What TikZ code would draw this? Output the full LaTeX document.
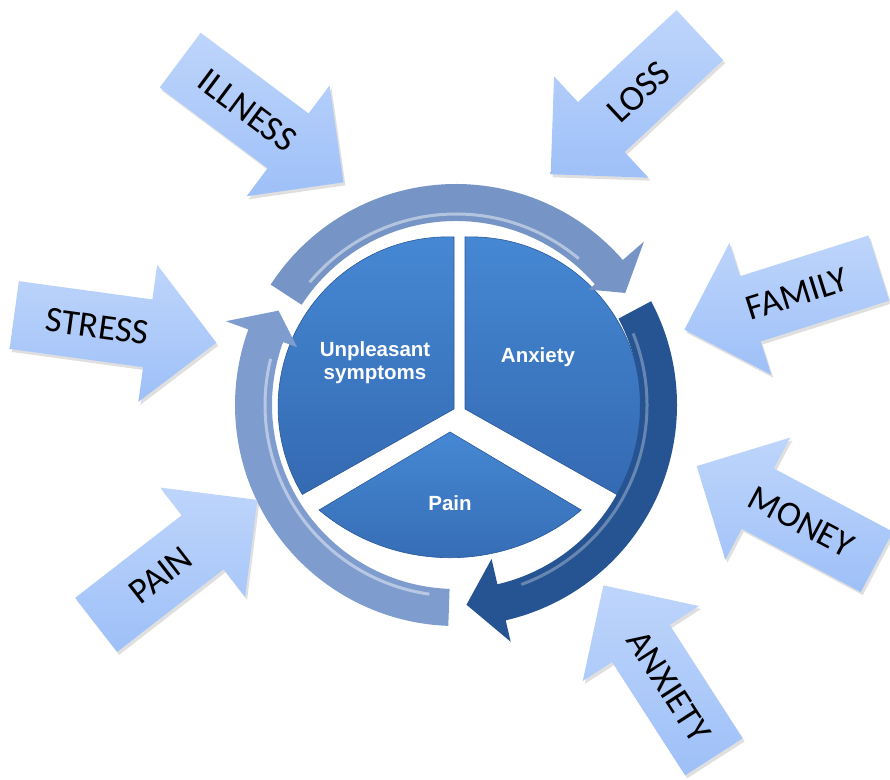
\documentclass[tikz,border=0pt]{standalone}
\usepackage{fontspec}
\setmainfont{Carlito}
\newfontfamily\piefont{Liberation Sans}
\usetikzlibrary{shapes.arrows, shadows, calc}

\definecolor{arrowlight}{RGB}{190,213,251}
\definecolor{arrowdark}{RGB}{158,192,248}
\definecolor{pielight}{RGB}{70,136,212}
\definecolor{piedark}{RGB}{52,106,178}
\definecolor{pieedge}{RGB}{42,88,152}
\definecolor{ringtop}{RGB}{118,148,197}
\definecolor{ringleft}{RGB}{126,156,206}
\definecolor{ringdark}{RGB}{38,84,146}

\begin{document}
\begin{tikzpicture}[x=1pt, y=1pt,
    input/.style = {
        single arrow,
        minimum height=204pt,
        minimum width=138pt,
        single arrow head extend=35pt,
        text height=68pt, text depth=0pt,
        inner sep=0pt,
        top color=arrowlight,
        bottom color=arrowdark,
        drop shadow={opacity=0.25, shadow xshift=2pt, shadow yshift=-3pt},
        anchor=tail
    },
    cause/.style = {
        font=\fontsize{36}{40}\selectfont,
        inner sep=0pt
    },
    sector/.style = {
        top color=pielight,
        bottom color=piedark,
        draw=pieedge,
        line width=0.6pt
    },
    inside/.style = {
        text=white,
        font=\piefont\bfseries\fontsize{20.5}{23}\selectfont,
        align=center
    },
    shine/.style = {white, opacity=0.45, line width=3pt}
]
    \useasboundingbox (0,0) rectangle (890,779);

    % Draw the pie
    \draw[sector] (454,370) -- (454,542) arc[start angle=88, end angle=211, radius=170] -- cycle;
    \draw[sector] (465,370) -- (465,542) arc[start angle=92, end angle=-31, radius=170] -- cycle;
    \draw[sector] (450,347) -- (319,269) arc[start angle=230, end angle=310, radius=204] -- cycle;

    \node[inside] (symptoms) at (375,416) {Unpleasant\\symptoms};
    \node[inside, anchor=base] (anxiety) at (538,416) {Anxiety};
    \node[inside, anchor=base] (pain) at (450,268) {Pain};

    % Draw the cycle round it
    \begin{scope}[shift={(456,374)}]
        \fill[ringtop] (147:221) arc[start angle=147, end angle=41, radius=221]
            -- (41:249) -- (33.5:203) -- (41:176) -- (41:184)
            arc[start angle=41, end angle=147, radius=184] -- cycle;
        \fill[ringdark] (28:221) arc[start angle=28, end angle=-77, radius=221]
            -- (-77:243) -- (-87:200) -- (-77:158) -- (-77:184)
            arc[start angle=-77, end angle=28, radius=184] -- cycle;
        \fill[ringleft] (268:221) arc[start angle=268, end angle=160, radius=221]
            -- (160:245) -- (152:201) -- (160:169) -- (160:184)
            arc[start angle=160, end angle=268, radius=184] -- cycle;
        \draw[shine] (140:191) arc[start angle=140, end angle=50, radius=191];
        \draw[shine, opacity=0.3] (22:191) arc[start angle=22, end angle=-70, radius=191];
        \draw[shine] (262:191) arc[start angle=262, end angle=166, radius=191];
    \end{scope}

    % Draw the arrows coming in
    \node[input, rotate=-36.8] (illness) at (180,719) {};
    \node[input, rotate=-137] (loss) at (700,744) {};
    \node[input, rotate=-162.4] (family) at (879,511) {};
    \node[input, rotate=-7.8] (stress) at (14,464) {};
    \node[input, rotate=37.8] (painin) at (96,154) {};
    \node[input, rotate=152] (money) at (877,217) {};
    \node[input, rotate=122.8] (worry) at (714,22) {};

    \node[cause, rotate=-36.8] at ($(illness.tail)!0.41!(illness.tip)$) {ILLNESS};
    \node[cause, rotate=43] at ($(loss.tail)!0.41!(loss.tip)$) {LOSS};
    \node[cause, rotate=17.6] at ($(family.tail)!0.42!(family.tip)$) {FAMILY};
    \node[cause, rotate=-7.8] at ($(stress.tail)!0.41!(stress.tip)$) {STRESS};
    \node[cause, rotate=37.8] at ($(painin.tail)!0.40!(painin.tip)$) {PAIN};
    \node[cause, rotate=-28] at ($(money.tail)!0.42!(money.tip)$) {MONEY};
    \node[cause, rotate=-57.2] at ($(worry.tail)!0.41!(worry.tip)$) {ANXIETY};

\end{tikzpicture}
\end{document}
